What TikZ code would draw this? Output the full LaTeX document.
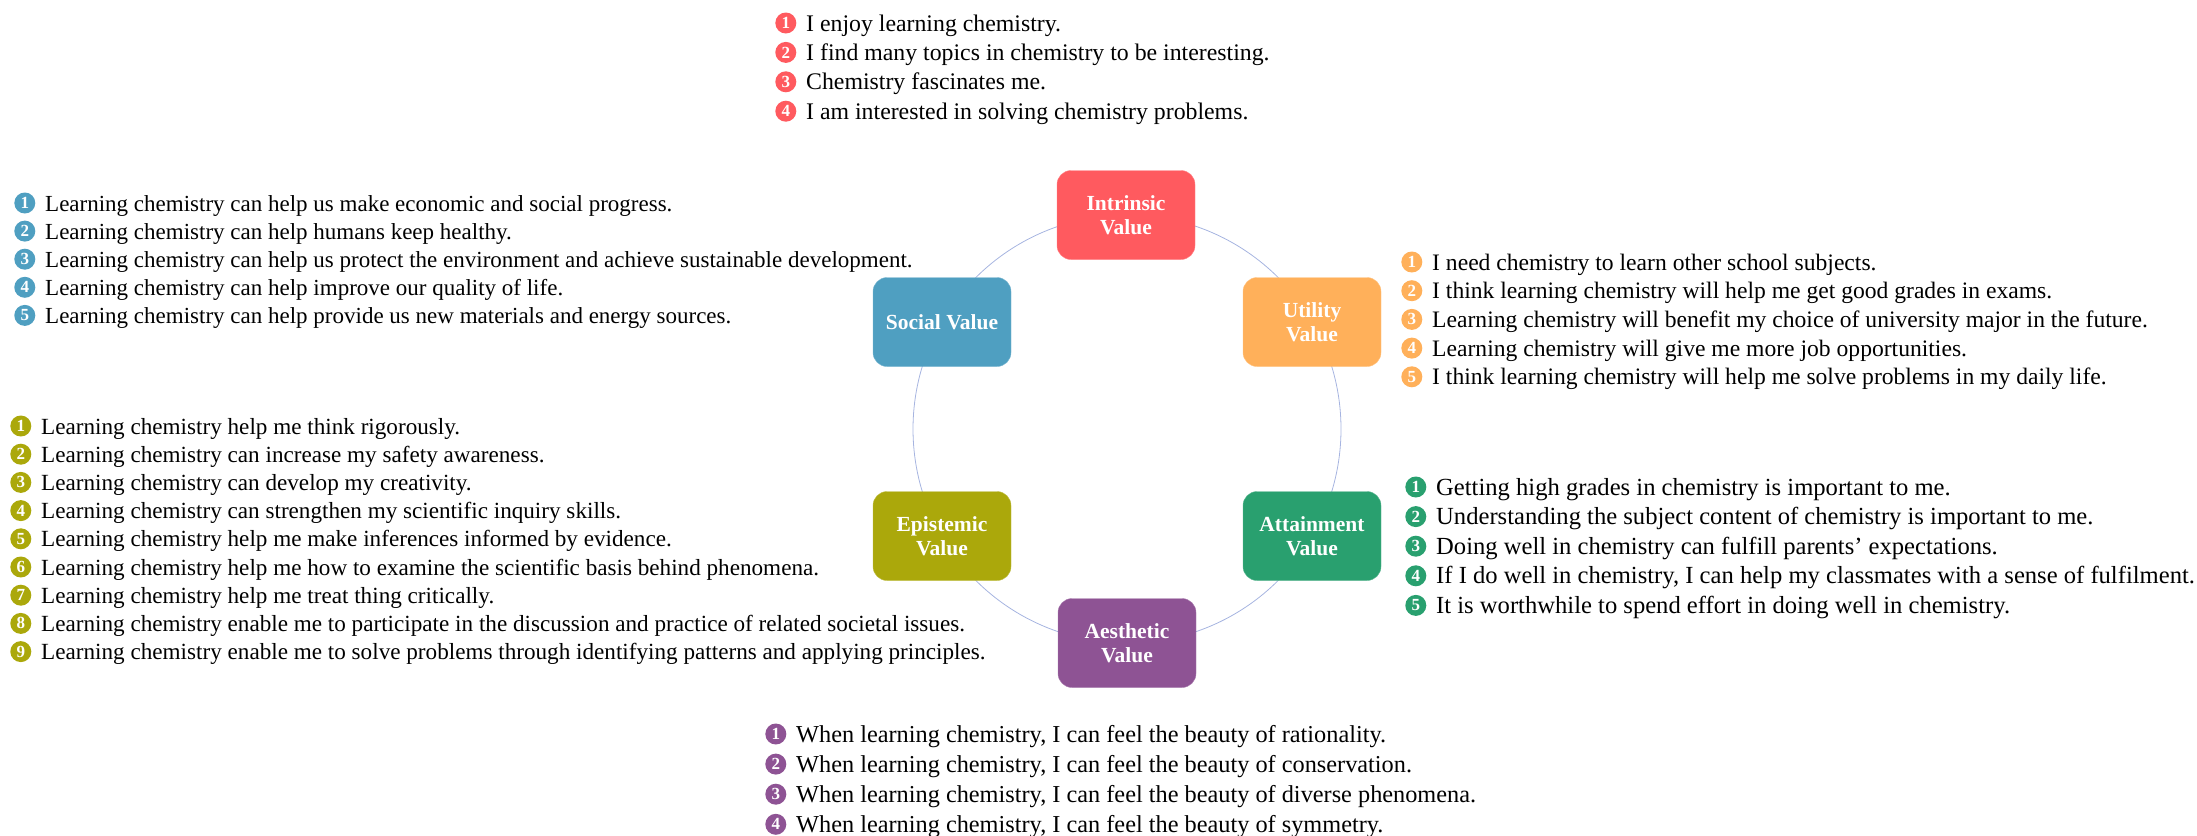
\documentclass[tikz,border=0pt]{standalone}
\usepackage{fontspec}
\setmainfont{Liberation Serif}
\usetikzlibrary{positioning}

\definecolor{cintr}{HTML}{FF5A5F}
\definecolor{cutil}{HTML}{FFB05A}
\definecolor{catt}{HTML}{29A06F}
\definecolor{caes}{HTML}{8E5394}
\definecolor{cepi}{HTML}{ABA80B}
\definecolor{csoc}{HTML}{4F9FC1}
\definecolor{cring}{HTML}{A6B4E0}

\begin{document}
\begin{tikzpicture}[x=1pt, y=-1pt,
    val/.style={fill=#1, draw=#1!75!white, rounded corners=14pt, minimum width=138pt,
      minimum height=89pt, text=white, align=center, font=\bfseries\fontsize{21.5}{24}\selectfont},
    bul/.style={circle, fill=#1, text=white, minimum size=21pt, inner sep=0pt,
      font=\bfseries\fontsize{17}{17}\selectfont},
    li/.style 2 args={anchor=west, inner sep=0pt, text height=16pt, text depth=0pt,
      font=\fontsize{23.8}{28}\selectfont, label={[bul=#1, label distance=9.5pt]left:#2}},
    fs/.style={font=\fontsize{#1}{28}\selectfont},
    nxt/.style 2 args={below=#2 of #1.south west, anchor=north west}]
  \useasboundingbox (0,0) rectangle (2197,835);

  % anillo
  \coordinate (c) at (1127,429);
  \draw[cring, line width=0.8pt] (c) circle (214pt);

  % valores
  \node[val=cintr] (intr) at (1126,215) {Intrinsic\\Value};
  \node[val=cutil] (util) at (1312,322) {Utility\\Value};
  \node[val=catt]  (att)  at (1312,536) {Attainment\\Value};
  \node[val=caes]  (aes)  at (1127,643) {Aesthetic\\Value};
  \node[val=cepi]  (epi)  at (942,536)  {Epistemic\\Value};
  \node[val=csoc]  (soc)  at (942,322)  {Social Value};

  % intrinsic
  \node[li={cintr}{1}] (i1) at (806,23) {I enjoy learning chemistry.};
  \node[li={cintr}{2}, nxt={i1}{13pt}] (i2) {I find many topics in chemistry to be interesting.};
  \node[li={cintr}{3}, nxt={i2}{13pt}] (i3) {Chemistry fascinates me.};
  \node[li={cintr}{4}, nxt={i3}{13pt}] (i4) {I am interested in solving chemistry problems.};

  % social
  \node[li={csoc}{1}, fs=23] (s1) at (45,203) {Learning chemistry can help us make economic and social progress.};
  \node[li={csoc}{2}, fs=23, nxt={s1}{11.7pt}] (s2) {Learning chemistry can help humans keep healthy.};
  \node[li={csoc}{3}, fs=23, nxt={s2}{11.7pt}] (s3) {Learning chemistry can help us protect the environment and achieve sustainable development.};
  \node[li={csoc}{4}, fs=23, nxt={s3}{11.7pt}] (s4) {Learning chemistry can help improve our quality of life.};
  \node[li={csoc}{5}, fs=23, nxt={s4}{11.7pt}] (s5) {Learning chemistry can help provide us new materials and energy sources.};

  % utility
  \node[li={cutil}{1}, fs=23.6] (u1) at (1432,262) {I need chemistry to learn other school subjects.};
  \node[li={cutil}{2}, fs=23.6, nxt={u1}{12.3pt}] (u2) {I think learning chemistry will help me get good grades in exams.};
  \node[li={cutil}{3}, fs=23.6, nxt={u2}{12.3pt}] (u3) {Learning chemistry will benefit my choice of university major in the future.};
  \node[li={cutil}{4}, fs=23.6, nxt={u3}{12.3pt}] (u4) {Learning chemistry will give me more job opportunities.};
  \node[li={cutil}{5}, fs=23.6, nxt={u4}{12.3pt}] (u5) {I think learning chemistry will help me solve problems in my daily life.};

  % epistemic
  \node[li={cepi}{1}, fs=23.15] (e1) at (41,426) {Learning chemistry help me think rigorously.};
  \node[li={cepi}{2}, fs=23.15, nxt={e1}{11.8pt}] (e2) {Learning chemistry can increase my safety awareness.};
  \node[li={cepi}{3}, fs=23.15, nxt={e2}{11.8pt}] (e3) {Learning chemistry can develop my creativity.};
  \node[li={cepi}{4}, fs=23.15, nxt={e3}{11.8pt}] (e4) {Learning chemistry can strengthen my scientific inquiry skills.};
  \node[li={cepi}{5}, fs=23.15, nxt={e4}{11.8pt}] (e5) {Learning chemistry help me make inferences informed by evidence.};
  \node[li={cepi}{6}, fs=23.15, nxt={e5}{11.8pt}] (e6) {Learning chemistry help me how to examine the scientific basis behind phenomena.};
  \node[li={cepi}{7}, fs=23.15, nxt={e6}{11.8pt}] (e7) {Learning chemistry help me treat thing critically.};
  \node[li={cepi}{8}, fs=23.15, nxt={e7}{11.8pt}] (e8) {Learning chemistry enable me to participate in the discussion and practice of related societal issues.};
  \node[li={cepi}{9}, fs=23.15, nxt={e8}{11.8pt}] (e9) {Learning chemistry enable me to solve problems through identifying patterns and applying principles.};

  % attainment
  \node[li={catt}{1}, fs=24.6] (a1) at (1436,487) {Getting high grades in chemistry is important to me.};
  \node[li={catt}{2}, fs=24.6, nxt={a1}{13.2pt}] (a2) {Understanding the subject content of chemistry is important to me.};
  \node[li={catt}{3}, fs=24.6, nxt={a2}{13.2pt}] (a3) {Doing well in chemistry can fulfill parents’ expectations.};
  \node[li={catt}{4}, fs=24.6, nxt={a3}{13.2pt}] (a4) {If I do well in chemistry, I can help my classmates with a sense of fulfilment.};
  \node[li={catt}{5}, fs=24.6, nxt={a4}{13.2pt}] (a5) {It is worthwhile to spend effort in doing well in chemistry.};

  % aesthetic
  \node[li={caes}{1}, fs=24.3] (b1) at (796,734) {When learning chemistry, I can feel the beauty of rationality.};
  \node[li={caes}{2}, fs=24.3, nxt={b1}{13.7pt}] (b2) {When learning chemistry, I can feel the beauty of conservation.};
  \node[li={caes}{3}, fs=24.3, nxt={b2}{13.7pt}] (b3) {When learning chemistry, I can feel the beauty of diverse phenomena.};
  \node[li={caes}{4}, fs=24.3, nxt={b3}{13.7pt}] (b4) {When learning chemistry, I can feel the beauty of symmetry.};
\end{tikzpicture}
\end{document}
